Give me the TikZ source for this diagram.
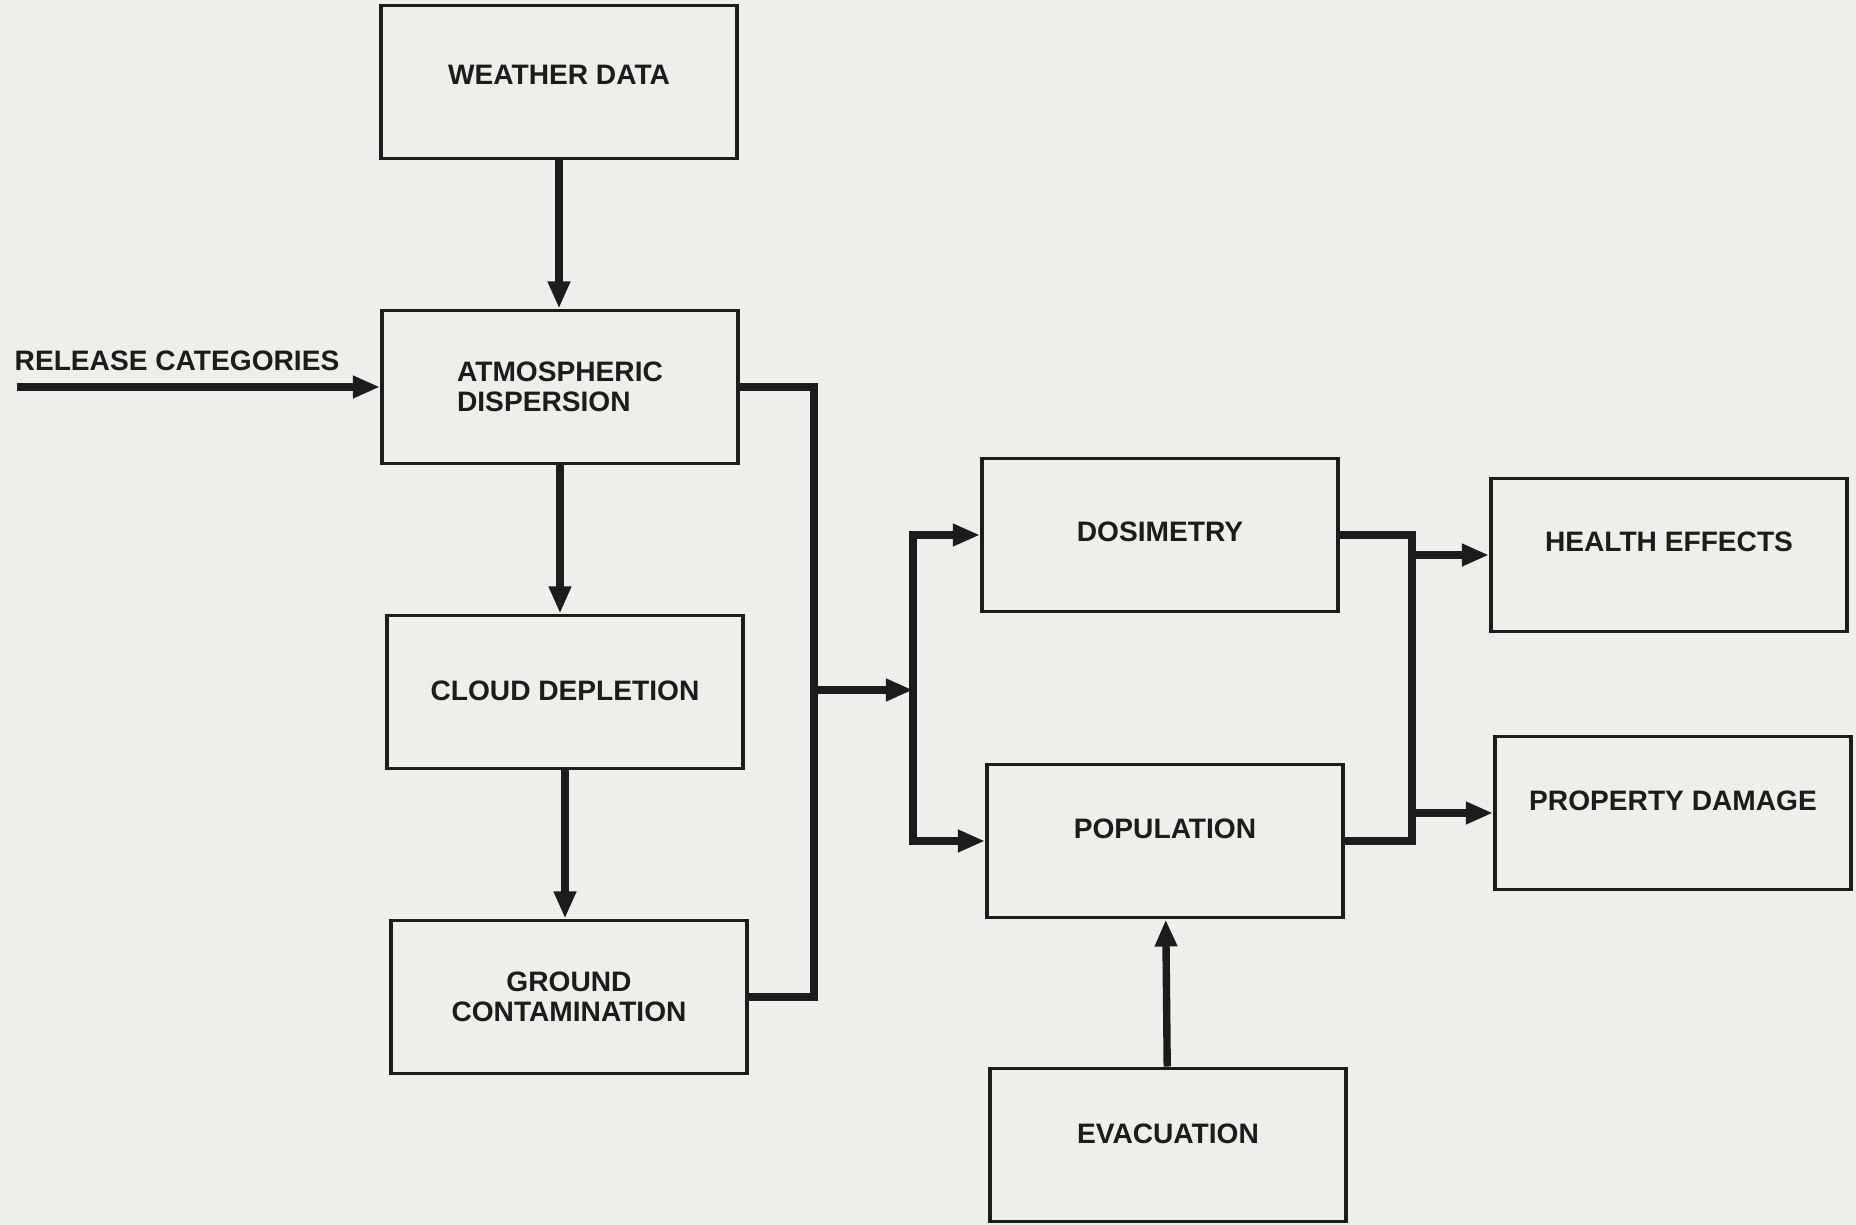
\documentclass[tikz,border=0pt]{standalone}
\usepackage{fontspec}
\setmainfont{Liberation Sans}
\usetikzlibrary{arrows.meta}
\definecolor{paper}{RGB}{238,238,236}
\definecolor{ink}{RGB}{28,28,28}
\tikzset{
  block/.style={draw=ink, fill=paper, line width=1.1pt, minimum width=3.56cm, minimum height=1.53cm,
    inner sep=0pt, align=center, text=ink, font=\fontsize{8}{8.6}\selectfont\bfseries},
  lift/.style={text depth=#1},
  flow/.style={draw=ink, line width=2.1pt, -{Triangle[length=0.27cm,width=0.21cm]}},
  bus/.style={draw=ink, line width=2.1pt, line join=miter},
}
\begin{document}
\begin{tikzpicture}[x=0.01cm,y=-0.01cm]
  \fill[paper] (0,0) rectangle (1856,1225);
  \useasboundingbox (0,0) rectangle (1856,1225);
  % boxes
  \node[block,lift=0.14cm] (weather) at (559,82) {WEATHER DATA};
  \node[block,align=left] (atmos) at (560,387) {ATMOSPHERIC\\DISPERSION};
  \node[block,lift=0.02cm] (cloud) at (565,692) {CLOUD DEPLETION};
  \node[block] (ground) at (569,997) {GROUND\\CONTAMINATION};
  \node[block,lift=0.06cm] (dosim) at (1160,535) {DOSIMETRY};
  \node[block,lift=0.24cm] (popul) at (1165,841) {POPULATION};
  \node[block,lift=0.22cm] (evac) at (1168,1145) {EVACUATION};
  \node[block,lift=0.26cm] (health) at (1669,555) {HEALTH EFFECTS};
  \node[block,lift=0.24cm] (damage) at (1673,813) {PROPERTY DAMAGE};
  \node[anchor=west,inner sep=0pt,text=ink,font=\fontsize{8}{8.6}\selectfont\bfseries] (relcat) at (14,361) {RELEASE CATEGORIES};
  % junctions
  \coordinate (relin) at (17,387);
  \coordinate (busa) at (814,690);
  \coordinate (busb) at (913,690);
  \coordinate (busc) at (1412,690);
  % connectors
  \draw[flow] (weather) -- (weather |- atmos.north);
  \draw[flow] (relin) -- (atmos.west);
  \draw[flow] (atmos) -- (atmos |- cloud.north);
  \draw[flow] (cloud) -- (cloud |- ground.north);
  \draw[bus] (atmos.east) -| (busa) |- (ground.east);
  \draw[flow] (busa) -- (busb);
  \draw[flow] (busb) |- (dosim.west);
  \draw[flow] (busb) |- (popul.west);
  \draw[bus] (dosim.east) -| (busc) |- (popul.east);
  \draw[flow] (busc |- health.west) -- (health.west);
  \draw[flow] (busc |- damage.west) -- (damage.west);
  \draw[flow] (evac) -- (popul);
\end{tikzpicture}
\end{document}
